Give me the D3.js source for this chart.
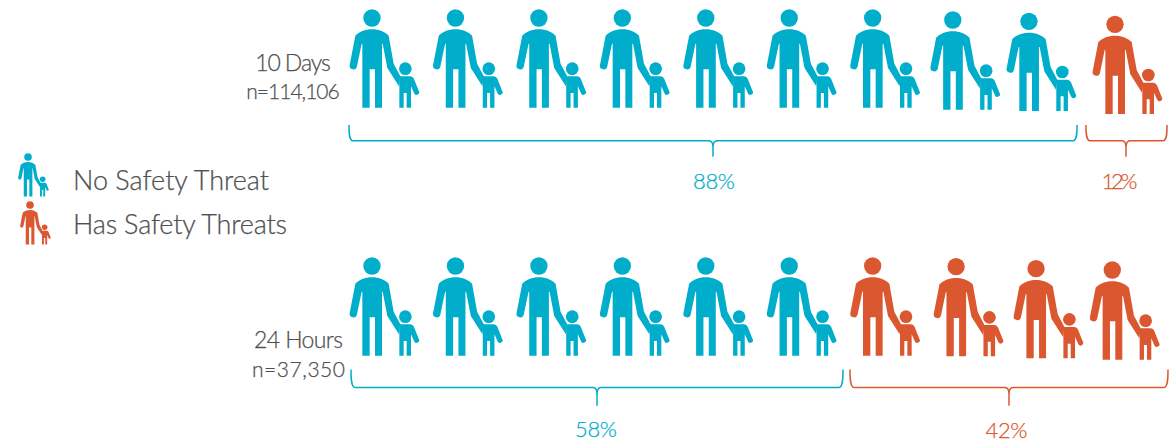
<!DOCTYPE html>
<html><head><meta charset="utf-8">
<script src="https://cdn.jsdelivr.net/npm/d3@7/dist/d3.min.js"></script>
<style>html,body{margin:0;background:#fff}svg{display:block}text{font-family:Lato,sans-serif;font-weight:300}</style>
</head><body><svg id="c" width="1170" height="442"></svg>
<script>
// data
const rowNames = ["10 Days", "24 Hours"];
const rowSizes = ["n=114,106", "n=37,350"];
const noThreatPct = [88, 58];
const hasThreatPct = [12, 42];
const noThreatIcons = [9, 6];
const hasThreatIcons = [1, 4];
const legendLabels = ["No Safety Threat", "Has Safety Threats"];

// layout (not data)
const BLUE = "#00aecb", RED = "#db5730", INK = "#4f5052";
const colX = d3.scaleLinear().domain([0, 9]).range([372, 1123]);
const nudgeX = [[0,0,0,0,0,0,0,-3.3,-10.6,-8],[0,0,0,0,0,0,0,0,-3.5,-10.7]];
const rowTop = [18, 266];
const nudgeY = [[0,0,0,0,0,0,0,2,3.3,6.3],[0,0,0,0,0,0,0,0.7,2.7,4]];
const labelLayout = [{x:293,y1:70.7,y2:98.5,w1:75.5,w2:93.5},{x:298.5,y1:348.3,y2:377.3,w1:89,w2:93}];
const brackets = [
  {b:[349,1077],r:[1086,1167],y0:125,y1:140.7,y2:156.7},
  {b:[351,843],r:[850,1168],y0:369.5,y1:387.4,y2:405.8}
];
const tipX = [[713,1126],[597,1009]];
const pctX = [[714,1119.5],[596,1006.5]];
const pctY = [[189.3,189.3],[436.8,437.5]];
const pctW = [[42,36],[42,42]];

const svg = d3.select("#c");
const ADULT = "M95 87C117 87 133 95 145 106L160 190L180 228L176 258L141 203L127 130H125V322H104V207H88V322H66V130H64L50 198A11 11 0 0 1 28 194L45 106C57 95 73 87 95 87Z";
const CHILD = "M177 228H209C215 228 219 232 221 236L235 271A7 7 0 0 1 222 280L212 258V322H199V278H190V322H177Z";

function icon(parent, x, y, s, color) {
  const g = parent.append("g")
    .attr("transform", `translate(${x},${y}) scale(${s/3}) translate(-95,-53)`)
    .attr("fill", color);
  g.append("circle").attr("cx",95).attr("cy",53).attr("r",26);
  g.append("path").attr("d",ADULT);
  g.append("circle").attr("cx",195).attr("cy",205).attr("r",19);
  g.append("path").attr("d",CHILD);
}

function bracketPath(x0,x1,tip,y0,y1,y2){
  return `M${x0} ${y0}C${x0} ${y0+8} ${x0} ${y1} ${x0+4} ${y1}H${tip-4}C${tip-1} ${y1} ${tip} ${y1+3} ${tip} ${y1+7}V${y2}`+
         `M${tip} ${y1+7}C${tip} ${y1+3} ${tip+1} ${y1} ${tip+4} ${y1}H${x1-4}C${x1} ${y1} ${x1} ${y0+8} ${x1} ${y0}`;
}

function label(x,y,t,size,w,fill,anchor){
  return svg.append("text").attr("x",x).attr("y",y).attr("text-anchor",anchor)
    .attr("font-size",size).attr("textLength",w).attr("lengthAdjust","spacing")
    .attr("fill",fill).attr("stroke",fill).attr("stroke-width",0.25).text(t);
}

rowNames.forEach((name,r)=>{
  const n = noThreatIcons[r]+hasThreatIcons[r];
  d3.range(n).forEach(i=>{
    icon(svg, colX(i)+nudgeX[r][i], rowTop[r]+nudgeY[r][i], 1, i<noThreatIcons[r]?BLUE:RED);
  });
  const L = labelLayout[r];
  label(L.x,L.y1,name,23,L.w1,INK,"middle");
  label(L.x,L.y2,rowSizes[r],21,L.w2,INK,"middle");
  const B = brackets[r];
  [[B.b,BLUE,noThreatPct[r]],[B.r,RED,hasThreatPct[r]]].forEach(([e,c,v],k)=>{
    svg.append("path").attr("d",bracketPath(e[0],e[1],tipX[r][k],B.y0,B.y1,B.y2))
      .attr("fill","none").attr("stroke",c).attr("stroke-width",1.5);
    label(pctX[r][k],pctY[r][k],v+"%",22,pctW[r][k],c,"middle");
  });
});

const legendPos = [{x:28,y:157,ty:190,w:196,c:BLUE},{x:30,y:205,ty:234,w:214,c:RED}];
legendLabels.forEach((t,i)=>{
  const p = legendPos[i];
  icon(svg,p.x,p.y,0.44,p.c);
  label(73,p.ty,t,27,p.w,INK,"start");
});
</script></body></html>
